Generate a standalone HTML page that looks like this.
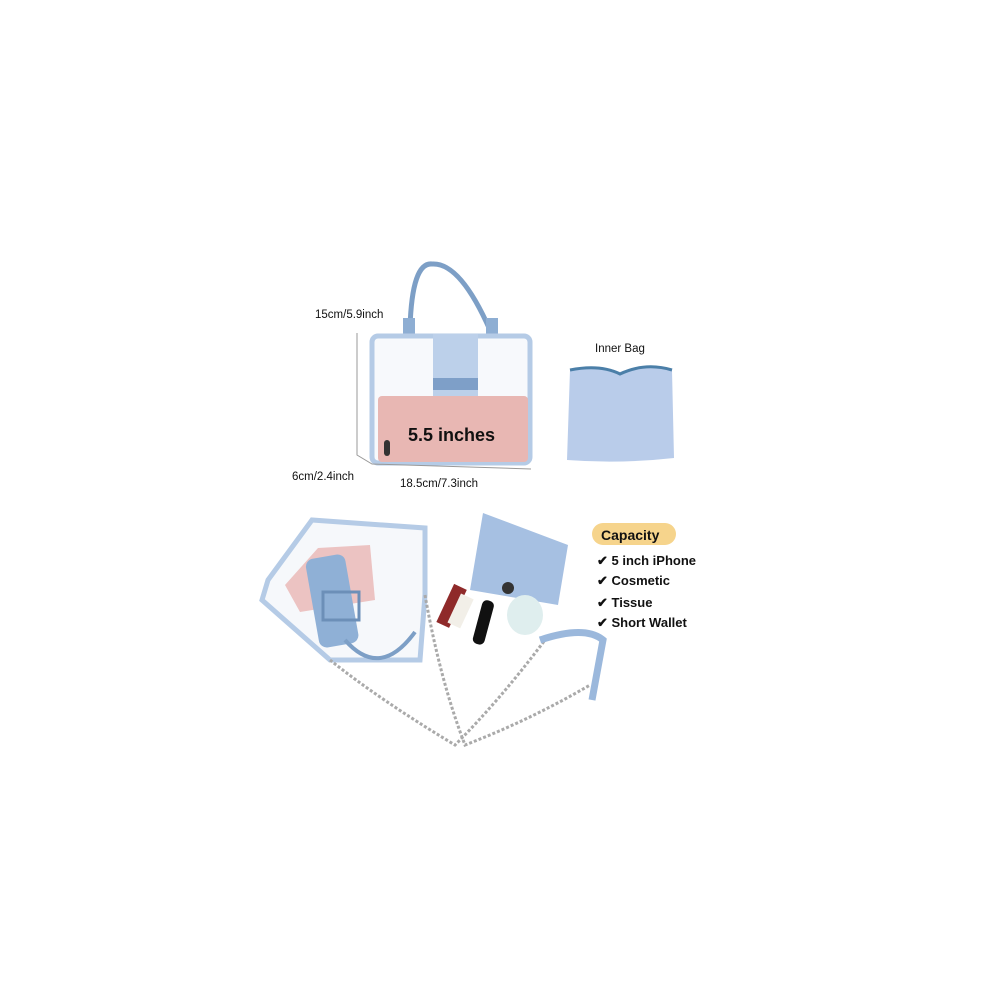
<!DOCTYPE html>
<html><head><style>
body{margin:0;background:#fff}
svg{display:block}
text{font-family:"Liberation Sans",sans-serif;fill:#111}
</style></head><body>
<svg width="1000" height="1000" viewBox="0 0 1000 1000">
<rect width="1000" height="1000" fill="#fff"/>
<!-- top bag -->
<path d="M410 328 Q412 262 432 264 Q460 262 490 330" fill="none" stroke="#7d9fc6" stroke-width="5"/>
<rect x="403" y="318" width="12" height="22" fill="#8eaed3"/>
<rect x="486" y="318" width="12" height="22" fill="#8eaed3"/>
<rect x="372" y="336" width="158" height="127" rx="6" fill="#f7f9fc" stroke="#b5cbe6" stroke-width="5"/>
<rect x="433" y="334" width="45" height="62" fill="#bcd0ea"/>
<rect x="433" y="378" width="45" height="12" fill="#7e9fc8"/>
<rect x="378" y="396" width="150" height="66" rx="4" fill="#e8b7b3"/>
<rect x="384" y="440" width="6" height="16" rx="3" fill="#333"/>
<text x="408" y="441" font-size="18" font-weight="bold">5.5 inches</text>
<text x="315" y="318" font-size="11.5">15cm/5.9inch</text>
<path d="M357 333 V455 L372 464 L531 469" fill="none" stroke="#999" stroke-width="1"/>
<text x="292" y="480" font-size="11.5">6cm/2.4inch</text>
<text x="400" y="487" font-size="11.5">18.5cm/7.3inch</text>
<!-- inner bag -->
<text x="595" y="352" font-size="11.5">Inner Bag</text>
<path d="M570 370 Q600 364 620 372 Q645 362 672 370 L674 458 Q620 464 567 460 Z" fill="#b9ccea"/>
<path d="M570 370 Q600 364 620 374 Q645 362 672 370" fill="none" stroke="#4b7fa8" stroke-width="3"/>
<!-- bottom clear bag -->
<path d="M268 580 L312 520 L425 528 L425 595 L420 660 L330 660 L262 600 Z" fill="#f6f8fb" stroke="#b5cbe6" stroke-width="5"/>
<path d="M285 585 L318 548 L370 545 L375 600 L300 612 Z" fill="#ecc3c2"/>
<rect x="312" y="556" width="40" height="90" rx="8" fill="#8fb0d6" transform="rotate(-10 332 600)"/>
<rect x="323" y="592" width="36" height="28" fill="none" stroke="#6c8fb8" stroke-width="3"/>
<path d="M345 640 Q380 680 415 632" fill="none" stroke="#7d9fc6" stroke-width="4"/>
<!-- small bag -->
<path d="M483 513 L568 545 L558 605 L470 590 Z" fill="#a6c0e2"/>
<circle cx="508" cy="588" r="6" fill="#333"/>
<rect x="445" y="585" width="14" height="42" fill="#8f2a2a" transform="rotate(25 452 605)"/>
<rect x="454" y="595" width="14" height="32" fill="#f2efe8" transform="rotate(25 461 610)"/>
<rect x="478" y="600" width="12" height="45" rx="5" fill="#111" transform="rotate(15 484 620)"/>
<ellipse cx="525" cy="615" rx="18" ry="20" fill="#dfeeee"/>
<!-- chain & strap -->
<path d="M330 660 Q380 700 455 745 Q500 700 545 640" fill="none" stroke="#aaa" stroke-width="3" stroke-dasharray="3 2"/>
<path d="M425 595 Q440 680 465 745 Q530 720 590 685" fill="none" stroke="#aaa" stroke-width="3" stroke-dasharray="3 2"/>
<path d="M540 640 Q585 625 603 640 L592 700" fill="none" stroke="#9bb8dc" stroke-width="7"/>
<!-- capacity -->
<rect x="592" y="523" width="84" height="22" rx="11" fill="#f6d48c"/>
<text x="601" y="540" font-size="14" font-weight="bold">Capacity</text>
<text x="597" y="565" font-size="13" font-weight="bold">✔ 5 inch iPhone</text>
<text x="597" y="585" font-size="13" font-weight="bold">✔ Cosmetic</text>
<text x="597" y="607" font-size="13" font-weight="bold">✔ Tissue</text>
<text x="597" y="627" font-size="13" font-weight="bold">✔ Short Wallet</text>
</svg>
</body></html>
